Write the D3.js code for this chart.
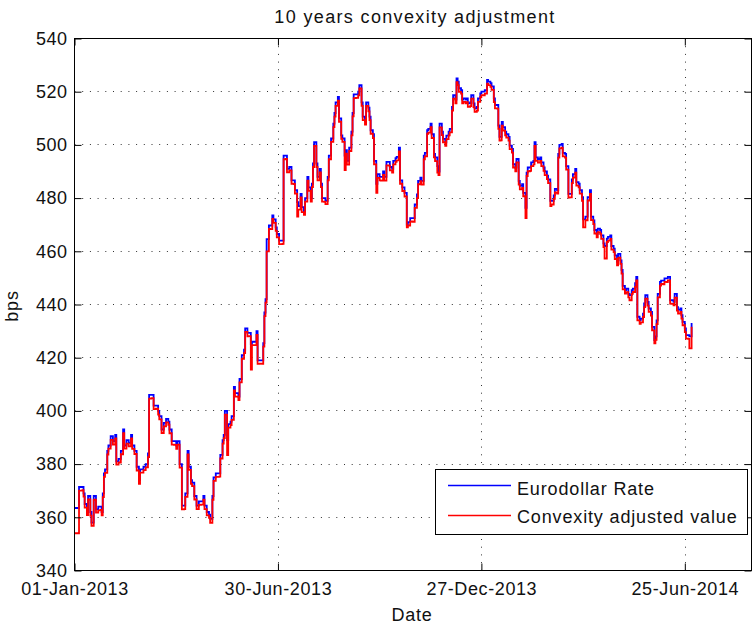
<!DOCTYPE html>
<html><head><meta charset="utf-8">
<script src="https://cdn.jsdelivr.net/npm/d3@7"></script>
<style>
html,body{margin:0;padding:0;background:#fff;}
svg{display:block;font-family:"Liberation Sans",Arial,Helvetica,sans-serif;}
</style></head><body>
<svg id="chart" width="753" height="626"></svg>
<script>
const titleText = "10 years convexity adjustment";
const xLabel = "Date";
const yLabel = "bps";
const seriesNames = ["Eurodollar Rate", "Convexity adjusted value"];
const startDate = "2013-01-01";
const endDay = 599; // right edge of the axis, in days after startDate
const xTickDates = ["2013-01-01", "2013-06-30", "2013-12-27", "2014-06-25"];
const yTicks = [340, 360, 380, 400, 420, 440, 460, 480, 500, 520, 540];

// observation dates, as days after startDate
const dayOffsets = [0,4,7,8,9,11,12,14,15,17,19,21,23,24,25,26,27,29,30,32,34,36,37,39,41,43,44,46,48,50,51,53,55,57,58,61,63,65,66,68,70,72,74,75,77,79,81,83,84,86,88,90,91,93,95,97,98,100,101,103,104,106,108,110,112,114,115,117,119,120,122,123,125,128,129,131,132,133,135,136,138,139,141,142,145,146,148,150,151,153,154,156,157,159,161,162,164,166,167,168,169,170,172,173,175,176,178,179,181,184,185,187,188,190,192,194,195,197,198,200,201,203,204,206,207,209,210,211,212,214,215,217,218,219,221,222,224,225,227,229,230,231,233,234,236,237,239,240,241,243,245,246,247,249,251,252,254,255,257,258,260,261,262,264,265,267,268,270,271,273,274,276,278,279,281,282,284,285,287,288,290,291,292,294,295,297,299,301,303,304,306,307,309,310,312,313,315,316,318,319,321,322,323,325,326,328,329,331,332,334,335,337,338,339,340,342,343,344,346,347,348,350,351,353,354,356,357,359,360,362,363,365,366,368,369,371,372,374,375,376,377,378,379,381,382,384,385,387,388,390,391,393,394,396,397,399,400,401,403,404,406,407,408,410,412,413,415,416,418,419,421,422,424,425,427,428,429,431,432,434,435,437,438,440,441,443,444,446,447,449,450,452,453,454,456,457,459,460,462,463,465,466,468,469,471,472,474,475,477,478,480,481,483,484,485,487,488,490,491,493,494,496,497,498,500,501,503,504,505,507,508,510,511,513,514,515,516,518,519,521,522,524,525,527,528,530,531,533,534,536,537,538,540,541,543,544,546];

const eurodollar = [363.5,371.4,371.4,369,365,362,368,362,358,368,363,364,364,362,369,376.5,378,385,387,390.5,388.6,391,381,382,385,393,387,389,388,391,387,385,379,374,378,379,380,384,406,406,402,402,400,398,393,395.5,397,396,393,388.6,388.6,387,388.6,380,364.4,364.4,369,385,379,374,373,368,364.4,366,366,368,364.4,362,361,359.4,368,375,376.5,376.5,383.5,389,391,400,389,395,396,398,409,406.7,405.4,412,421,423,431,429.3,429.3,425,426,426,430,419,419,419,425.5,437,442,464.6,469.7,469.7,473.5,472,469,466.5,464,464,496,496,491,491.7,486.7,486.7,483,478.5,477,481.6,476.6,475,480,488,484,480,485.4,493,501,493,488,491,485.4,480,480,479,488,496,502.4,508,512,516,518,510,503.6,502.4,496,498,494,499,505,512,519,519,520,522.5,516,510.6,509,516,514,510.6,505.5,504,494,485.4,489,488,488,490,488,493.6,493.6,491.7,491,494,495,495.5,499,486.7,484,484,482,470,471,472.5,472.5,477.6,481.4,486.5,487.7,486.5,496,497,505.5,506,508,504,496.6,495.3,492,490,508,505,502.3,501,503.5,505,506,514.3,518.7,517,525,523.8,521.3,520.6,517,517.5,517,517.5,515.6,516,518.7,515.6,513.7,514.3,517.5,519.4,520,520,520.6,524.4,523.8,523.2,522,517.5,515,515,507.3,503,503,508.6,506.7,505,504,503,499.7,498.5,492.8,491.5,494.7,486.5,484.6,485.2,482,476.3,489.6,491.5,491.5,493.4,494,501,495.3,494.7,495.3,493.4,491.5,490,488.4,487,479,479,481,483.5,483,496.6,500,500.4,497,496.6,492,481.6,481.6,487,489,491,486,485.4,483,480.4,472,473,473,480.4,483,473,471.6,468,466.6,468.5,468,466,463,462,464.8,465.4,466,462,461,458.5,456,459,456.6,453,447,445.4,446,444,443.5,445.4,446,448,450.4,435.4,434,434.7,436.6,440.4,443.5,441,438.5,437.2,431.6,426.6,428,434,444,448.5,449,449,449.8,449.8,450.4,441.6,441.6,441,444,439,438,438.5,436,433.5,431,428.5,428.5,428,433];

const adjusted = [354,370.0,370.2,367.8,363.6,360.8,366.7,360.6,356.8,366.6,361.8,362.6,362.8,360.7,367.6,375.2,376.7,383.6,385.8,389.1,387.3,389.7,379.8,380.6,383.7,391.6,385.8,387.7,386.7,389.7,385.7,383.8,377.6,372.6,376.8,377.7,378.8,382.6,404.6,404.8,400.7,400.8,398.6,396.8,391.7,394.2,395.7,394.8,391.6,387.3,387.2,385.7,387.3,378.7,363.0,363.1,367.7,383.6,377.8,372.6,371.7,366.7,363.1,364.7,364.8,366.6,363.1,360.7,359.8,357.9,366.6,373.7,375.2,375.3,382.1,387.7,389.8,398.6,383.4,393.7,394.7,396.6,407.7,405.4,404.1,410.7,419.6,421.7,429.7,428.0,428.1,415.5,424.7,424.7,428.6,417.7,417.8,417.7,424.2,435.6,440.7,460.0,468.4,468.3,472.2,470.7,467.7,465.2,462.7,462.8,494.6,494.7,489.7,490.4,485.4,485.3,481.7,473.0,475.7,480.3,474.7,473.7,478.7,486.6,482.7,478.7,484.1,491.7,499.6,491.7,486.7,489.7,484.1,478.7,478.6,477.7,486.7,494.6,501.1,506.7,510.6,514.7,516.6,508.7,502.3,501.1,490.5,496.7,492.6,497.7,503.6,510.7,517.6,517.7,518.6,521.2,514.7,509.3,507.6,514.7,512.6,509.3,504.2,502.6,492.7,482.0,487.6,486.7,486.6,488.7,486.6,492.3,492.2,490.4,489.6,492.7,493.6,494.2,497.6,485.4,482.6,482.7,480.6,469.0,469.7,471.2,471.1,476.3,480.0,485.2,486.4,485.1,494.6,495.7,504.2,504.6,506.7,502.6,495.3,493.9,489.6,488.6,506.6,503.7,501.0,499.6,502.2,503.6,504.7,512.9,517.4,515.6,523.6,522.5,519.9,519.3,515.6,516.2,515.6,516.1,514.3,514.6,517.4,514.2,512.4,512.9,516.2,518.0,518.7,518.6,519.3,523.0,522.5,521.8,520.7,516.1,513.7,513.6,506.0,501.6,501.7,507.2,505.4,503.6,502.7,501.6,498.4,497.1,491.5,490.1,493.4,485.1,483.3,483.8,480.7,472.5,488.3,490.1,490.2,492.0,492.7,499.6,494.0,493.3,494.0,492.0,490.2,488.6,487.1,485.6,477.0,477.6,479.7,482.1,481.7,495.2,498.7,499.0,495.7,495.2,490.7,480.2,480.3,485.6,487.7,489.6,484.7,484.0,481.7,479.0,469.0,471.7,471.6,479.1,481.6,471.7,470.2,466.7,465.2,467.2,466.6,464.7,461.6,457.3,463.5,464.0,464.7,460.6,459.7,457.1,454.7,457.6,455.3,451.6,445.7,444.1,444.6,442.7,441.6,444.0,444.7,446.6,449.1,434.0,432.7,433.3,435.3,439.0,442.2,439.6,437.2,435.8,430.3,425.4,426.7,432.6,442.7,447.1,447.7,447.6,448.5,448.4,449.1,440.3,440.2,439.7,442.6,437.7,436.6,437.2,434.7,432.2,429.6,427.2,427.1,423.5,431.6];

const colors = ["#0000ff", "#ff0000"];

const parse = d3.utcParse("%Y-%m-%d");
const t0 = parse(startDate);
const dayToDate = d => new Date(t0.getTime() + d * 86400000);
const dates = dayOffsets.map(dayToDate);

const L = 74.5, R = 751.5, T = 38.5, B = 570.5;
const x = d3.scaleUtc().domain([t0, dayToDate(endDay)]).range([L, R]);
const y = d3.scaleLinear().domain([340, 540]).range([B, T]);

const svg = d3.select("#chart");
svg.append("rect").attr("width", 753).attr("height", 626).attr("fill", "#fff");

const xTicks = xTickDates.map(parse);
const fmt = d3.utcFormat("%d-%b-%Y");
const FS = 18;

// grid
const grid = svg.append("g").attr("stroke", "#333").attr("stroke-width", 1)
  .attr("stroke-dasharray", "1,6.7").attr("fill", "none");
grid.selectAll("line.v").data(xTicks.filter(d => x(d) > L + 1 && x(d) < R - 1)).join("line")
  .attr("x1", d => Math.round(x(d)) + 0.5).attr("x2", d => Math.round(x(d)) + 0.5)
  .attr("y1", T).attr("y2", B);
grid.selectAll("line.h").data(yTicks.filter(v => v > 340 && v < 540)).join("line")
  .attr("y1", d => Math.round(y(d) - 0.5) + 0.5).attr("y2", d => Math.round(y(d) - 0.5) + 0.5)
  .attr("x1", L).attr("x2", R);

// data (stairs)
const line = d3.line().curve(d3.curveStepAfter).x((d, i) => x(dates[i])).y(d => y(d));
[eurodollar, adjusted].forEach((s, k) => {
  svg.append("path").datum(s).attr("d", line).attr("fill", "none")
    .attr("stroke", colors[k]).attr("stroke-width", 1.8).attr("stroke-linejoin", "miter");
});

// frame
svg.append("rect").attr("x", L).attr("y", T).attr("width", R - L).attr("height", B - T)
  .attr("fill", "none").attr("stroke", "#000").attr("stroke-width", 1);

// axes
const ax = (g) => { g.select(".domain").remove(); g.selectAll(".tick line").attr("stroke", "#000"); };
svg.append("g").attr("transform", `translate(0,${B})`)
  .call(d3.axisBottom(x).tickValues(xTicks).tickFormat(fmt).tickSizeInner(-7).tickSizeOuter(0).tickPadding(12))
  .call(ax)
  .call(g => g.selectAll("text").attr("font-size", FS).attr("font-family", null).attr("fill", "#111").attr("letter-spacing", "0.6px"));
svg.append("g").attr("transform", `translate(0,${T})`)
  .call(d3.axisTop(x).tickValues(xTicks).tickFormat("").tickSizeInner(-7).tickSizeOuter(0)).call(ax);
svg.append("g").attr("transform", `translate(${L},0)`)
  .call(d3.axisLeft(y).tickValues(yTicks).tickFormat(d3.format("d")).tickSizeInner(-7).tickSizeOuter(0).tickPadding(7))
  .call(ax)
  .call(g => g.selectAll("text").attr("font-size", FS).attr("font-family", null).attr("fill", "#111").attr("letter-spacing", "0.5px"));
svg.append("g").attr("transform", `translate(${R},0)`)
  .call(d3.axisRight(y).tickValues(yTicks).tickFormat("").tickSizeInner(-7).tickSizeOuter(0)).call(ax);

// title and labels
svg.append("text").attr("x", 415).attr("y", 23).attr("text-anchor", "middle")
  .attr("font-size", FS).attr("letter-spacing", "1.35px").attr("fill", "#111").text(titleText);
svg.append("text").attr("x", 412).attr("y", 621).attr("text-anchor", "middle")
  .attr("font-size", FS).attr("letter-spacing", "0.8px").attr("fill", "#111").text(xLabel);
svg.append("text").attr("transform", "translate(18,306) rotate(-90)").attr("text-anchor", "middle")
  .attr("font-size", FS).attr("letter-spacing", "0.8px").attr("fill", "#111").text(yLabel);

// legend
const lg = svg.append("g");
lg.append("rect").attr("x", 435.5).attr("y", 469.5).attr("width", 312).attr("height", 65)
  .attr("fill", "#fff").attr("stroke", "#000").attr("stroke-width", 1);
const rows = [{ly: 485.5, ty: 494.5}, {ly: 515.5, ty: 523}];
seriesNames.forEach((name, k) => {
  lg.append("line").attr("x1", 448).attr("x2", 511).attr("y1", rows[k].ly).attr("y2", rows[k].ly)
    .attr("stroke", colors[k]).attr("stroke-width", 1.5);
  lg.append("text").attr("x", 517).attr("y", rows[k].ty).attr("font-size", FS)
    .attr("letter-spacing", "0.85px").attr("fill", "#111").text(name);
});
</script>
</body></html>
